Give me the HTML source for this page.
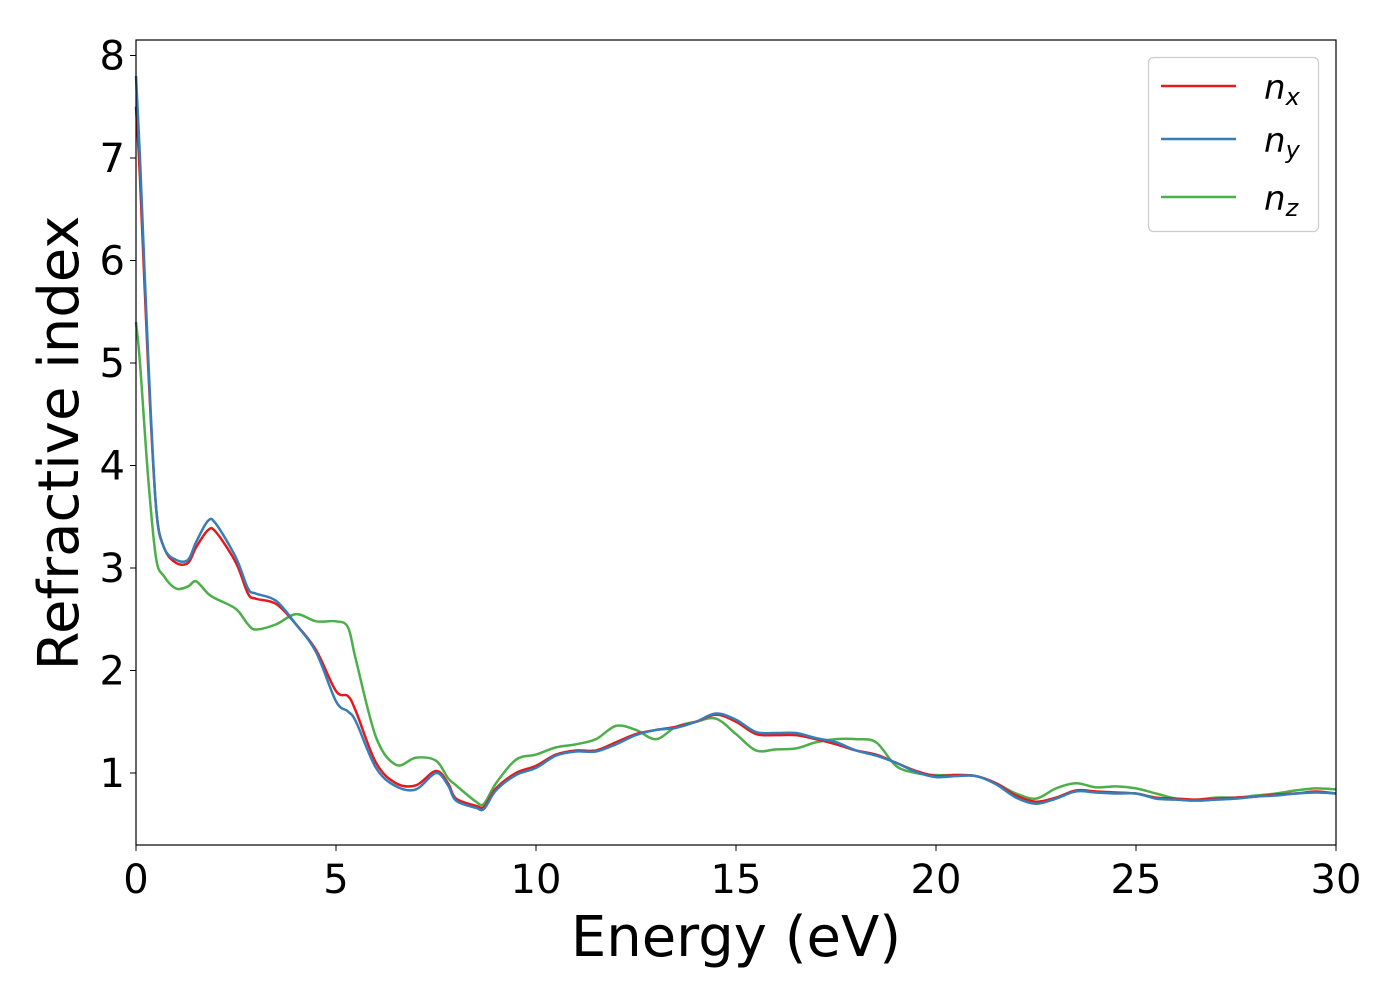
<!DOCTYPE html>
<html><head><meta charset="utf-8"><style>
body{margin:0;background:#fff}
svg{display:block;font-family:"DejaVu Sans","Liberation Sans",sans-serif}
</style></head><body>
<svg width="1400" height="1000" viewBox="0 0 1400 1000" xmlns="http://www.w3.org/2000/svg">
<g id="series"></g>
<rect x="136" y="40" width="1200" height="805" fill="none" stroke="#000" stroke-width="1.2"/>
<g id="ticks"></g>
<text x="736" y="956" font-size="56" text-anchor="middle">Energy (eV)</text>
<text transform="translate(78,443) rotate(-90)" font-size="56" text-anchor="middle">Refractive index</text>
<g>
<rect x="1148.5" y="57.5" width="170" height="174" rx="5" fill="#fff" stroke="#ccc" stroke-width="1.2"/>
<g><line x1="1161" y1="86" x2="1236" y2="86" stroke="#e41a1c" stroke-width="2.5"/><text x="1264" y="99" font-size="34" font-style="italic">n<tspan font-size="24" dy="6">x</tspan></text></g>
<g><line x1="1161" y1="139" x2="1236" y2="139" stroke="#377eb8" stroke-width="2.5"/><text x="1264" y="152" font-size="34" font-style="italic">n<tspan font-size="24" dy="6">y</tspan></text></g>
<g><line x1="1161" y1="197" x2="1236" y2="197" stroke="#4daf4a" stroke-width="2.5"/><text x="1264" y="210" font-size="34" font-style="italic">n<tspan font-size="24" dy="6">z</tspan></text></g>
</g>
</svg>
<script>
const energy=[0,0.1,0.3,0.5,0.7,1.0,1.3,1.5,1.8,2.0,2.5,2.8,3.0,3.5,4.0,4.5,5.0,5.3,5.5,6.0,6.5,7.0,7.5,7.8,8.0,8.5,8.7,9.0,9.5,10,10.5,11,11.5,12,12.5,13,13.5,14,14.5,15,15.5,16,16.5,17,17.5,18,18.5,19,19.5,20,20.5,21,21.5,22,22.5,23,23.5,24,24.5,25,25.5,26,26.5,27,27.5,28,28.5,29,29.5,30];
const nx=[7.5,6.8,5.0,3.6,3.2,3.05,3.05,3.2,3.37,3.35,3.05,2.75,2.7,2.65,2.45,2.2,1.8,1.75,1.6,1.1,0.9,0.88,1.02,0.9,0.75,0.68,0.67,0.85,1.0,1.07,1.18,1.22,1.22,1.3,1.38,1.42,1.45,1.5,1.57,1.5,1.38,1.37,1.37,1.33,1.28,1.22,1.18,1.1,1.02,0.97,0.98,0.97,0.9,0.78,0.72,0.76,0.83,0.82,0.81,0.8,0.76,0.75,0.74,0.75,0.76,0.77,0.79,0.8,0.82,0.8];
const ny=[7.8,7.0,5.1,3.6,3.2,3.08,3.08,3.25,3.46,3.43,3.1,2.8,2.75,2.68,2.45,2.18,1.7,1.6,1.5,1.05,0.87,0.84,1.0,0.88,0.73,0.66,0.65,0.83,0.98,1.05,1.17,1.21,1.21,1.28,1.37,1.42,1.44,1.5,1.58,1.52,1.4,1.39,1.39,1.34,1.3,1.22,1.17,1.1,1.01,0.96,0.97,0.97,0.89,0.76,0.7,0.75,0.82,0.81,0.8,0.8,0.75,0.74,0.73,0.74,0.75,0.77,0.78,0.8,0.81,0.8];
const nz=[5.4,5.0,3.9,3.1,2.92,2.8,2.82,2.87,2.75,2.7,2.6,2.45,2.4,2.45,2.55,2.48,2.48,2.42,2.1,1.35,1.08,1.15,1.12,0.95,0.88,0.72,0.7,0.9,1.13,1.18,1.25,1.28,1.33,1.46,1.42,1.33,1.45,1.5,1.53,1.38,1.22,1.23,1.24,1.3,1.33,1.33,1.3,1.07,1.0,0.98,0.98,0.97,0.9,0.8,0.75,0.85,0.9,0.86,0.87,0.85,0.8,0.75,0.74,0.76,0.76,0.78,0.8,0.83,0.85,0.84];
const xTicks=[0,5,10,15,20,25,30];
const yTicks=[1,2,3,4,5,6,7,8];
const NS="http://www.w3.org/2000/svg";
const X=v=>136+v*40;
const Y=v=>773-(v-1)*102.5;
function path(xs,ys){
  const p=xs.map((x,i)=>[X(x),Y(ys[i])]);
  let d="M"+p[0][0]+","+p[0][1];
  for(let i=0;i<p.length-1;i++){
    const p0=p[Math.max(0,i-1)],p1=p[i],p2=p[i+1],p3=p[Math.min(p.length-1,i+2)];
    const c1=[p1[0]+(p2[0]-p0[0])/6,p1[1]+(p2[1]-p0[1])/6];
    const c2=[p2[0]-(p3[0]-p1[0])/6,p2[1]-(p3[1]-p1[1])/6];
    d+=" C"+c1+" "+c2+" "+p2;
  }
  return d;
}
const g=document.getElementById("series");
[[nz,"#4daf4a","line-nz"],[nx,"#e41a1c","line-nx"],[ny,"#377eb8","line-ny"]].forEach(s=>{
  const el=document.createElementNS(NS,"path");
  el.setAttribute("d",path(energy,s[0]));
  el.setAttribute("fill","none");el.setAttribute("stroke",s[1]);el.setAttribute("stroke-width","2.5");
  
  
  g.appendChild(el);
});
const t=document.getElementById("ticks");
xTicks.forEach(v=>{
  const l=document.createElementNS(NS,"line");
  l.setAttribute("x1",X(v));l.setAttribute("x2",X(v));l.setAttribute("y1",845);l.setAttribute("y2",851);l.setAttribute("stroke","#000");
  
  
  t.appendChild(l);
  const tx=document.createElementNS(NS,"text");
  tx.setAttribute("x",X(v));tx.setAttribute("y",893);tx.setAttribute("font-size","40");tx.setAttribute("text-anchor","middle");
  tx.textContent=v;
  
  
  t.appendChild(tx);
});
yTicks.forEach(v=>{
  const l=document.createElementNS(NS,"line");
  l.setAttribute("x1",130);l.setAttribute("x2",136);l.setAttribute("y1",Y(v));l.setAttribute("y2",Y(v));l.setAttribute("stroke","#000");
  
  
  t.appendChild(l);
  const tx=document.createElementNS(NS,"text");
  tx.setAttribute("x",125);tx.setAttribute("y",Y(v)+14);tx.setAttribute("font-size","40");tx.setAttribute("text-anchor","end");
  tx.textContent=v;
  
  
  t.appendChild(tx);
});
</script>
</body></html>
